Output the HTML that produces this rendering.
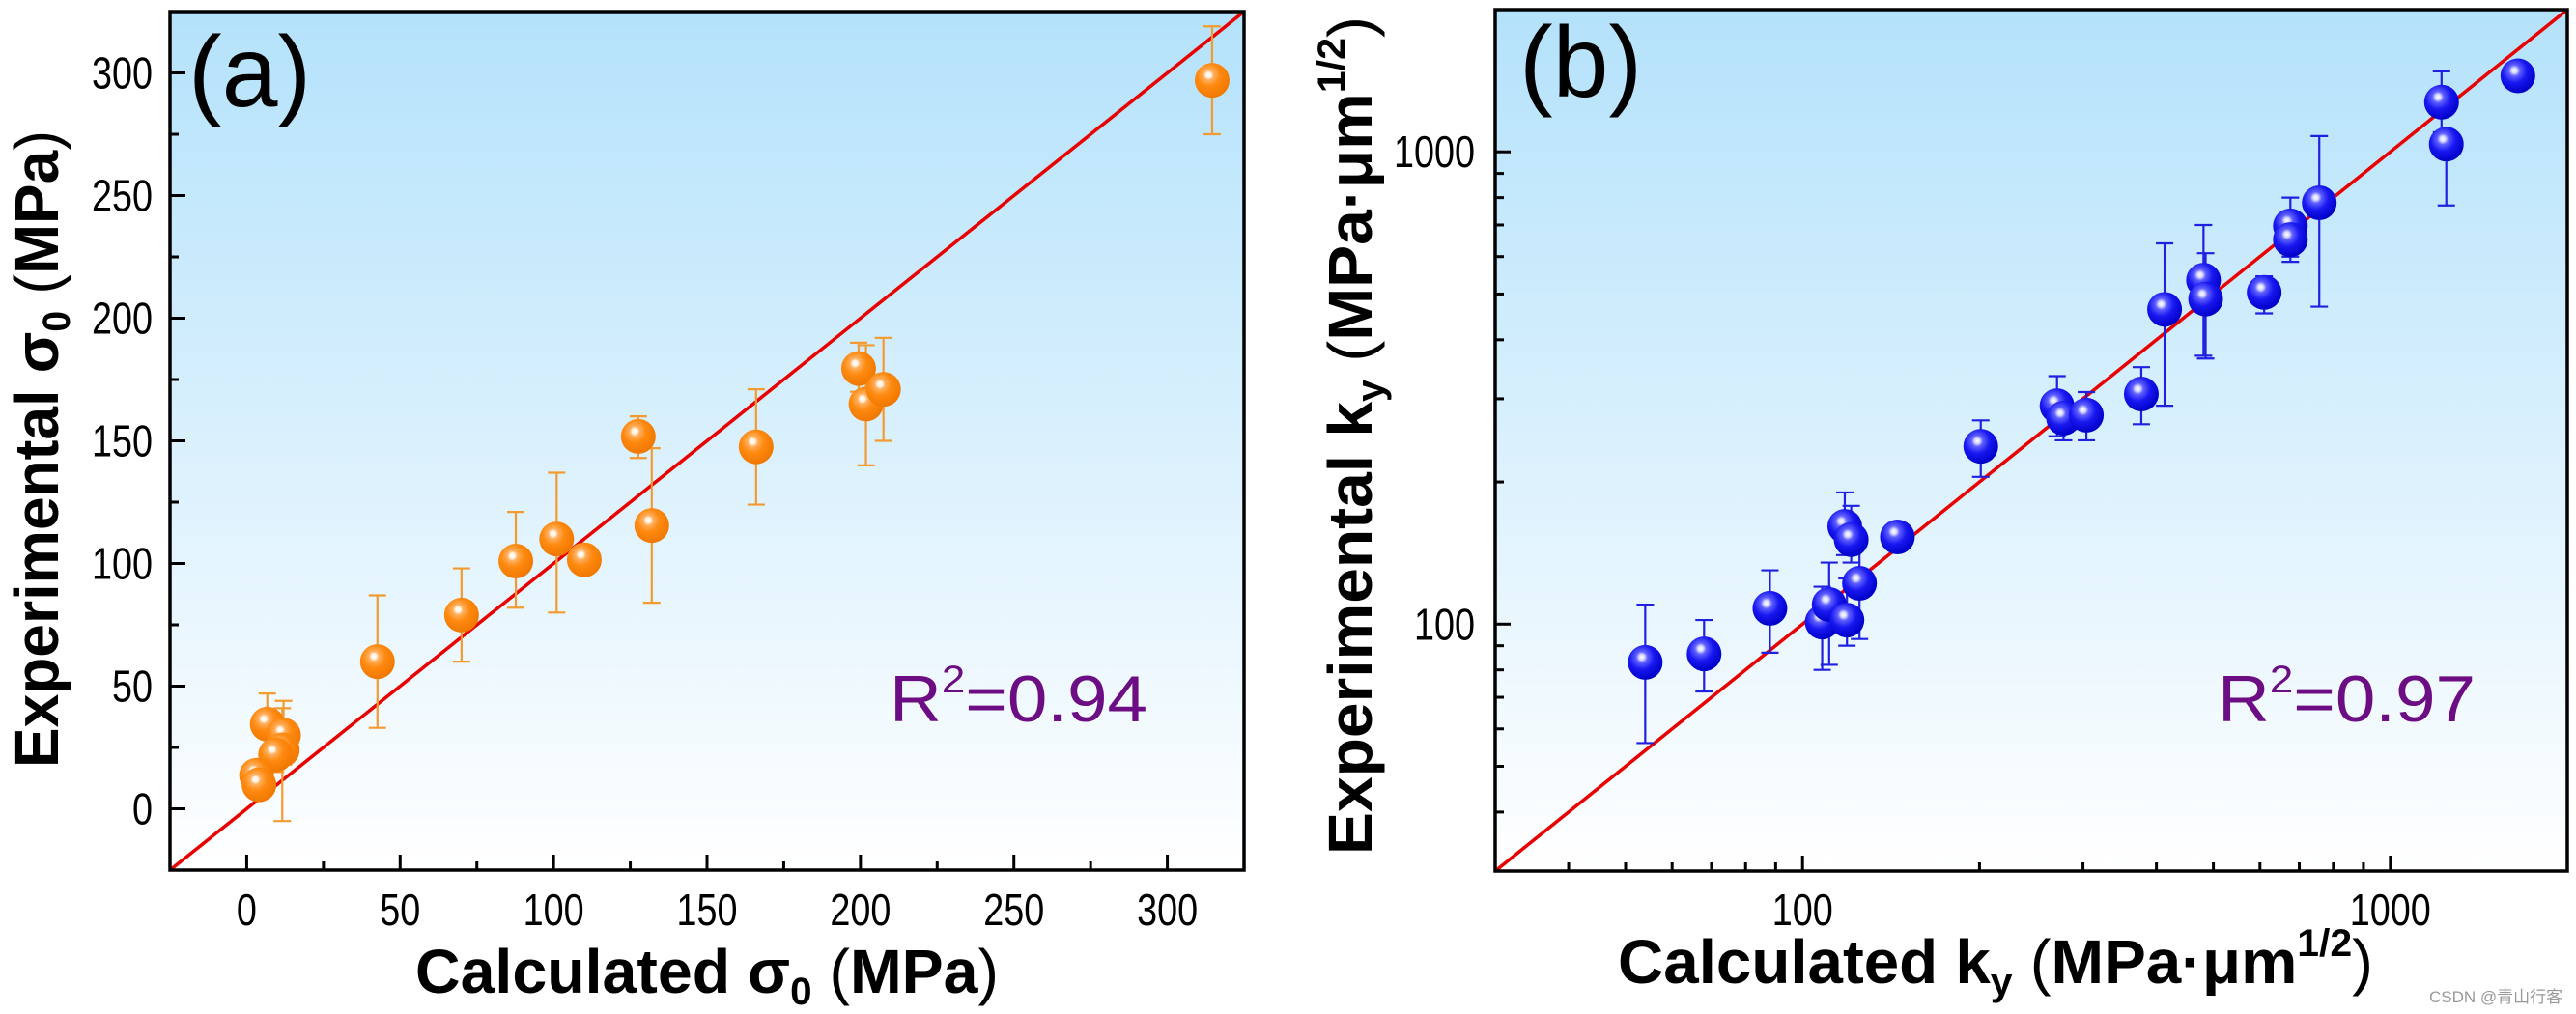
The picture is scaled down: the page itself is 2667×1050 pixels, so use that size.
<!DOCTYPE html>
<html><head><meta charset="utf-8"><style>
html,body{margin:0;padding:0;background:#fff;}
svg{display:block;font-family:"Liberation Sans","Noto Sans CJK SC",sans-serif;}
</style></head><body>
<svg id="fig" width="2667" height="1050" viewBox="0 0 2667 1050" xmlns="http://www.w3.org/2000/svg">
<defs>
<linearGradient id="bg" x1="0" y1="0" x2="0" y2="1">
<stop offset="0" stop-color="#b4e2fb"/><stop offset="1" stop-color="#ffffff"/>
</linearGradient>
<radialGradient id="orangeBall" cx="0.4" cy="0.35" r="0.65">
<stop offset="0" stop-color="#ffffff"/><stop offset="0.12" stop-color="#fff2e0"/><stop offset="0.22" stop-color="#ffb060"/><stop offset="0.5" stop-color="#ff8a10"/><stop offset="1" stop-color="#f07800"/>
</radialGradient>
<radialGradient id="blueBall" cx="0.4" cy="0.35" r="0.65">
<stop offset="0" stop-color="#ffffff"/><stop offset="0.12" stop-color="#d8d8ff"/><stop offset="0.25" stop-color="#6060ff"/><stop offset="0.55" stop-color="#1818f0"/><stop offset="1" stop-color="#0000c8"/>
</radialGradient>
</defs>
<g id="panelA"></g>
<g id="panelB"></g>
<text x="2515" y="1038" font-size="17" fill="#999">CSDN @青山行客</text>
</svg>
<script>
// Panel (a) data
const aCalc = [314.6,199.4,201.8,207.5,166,127.6,132,110,101,87.7,70,42.6,6.7,12,11.6,9.4,3.2,4];
const aExp  = [297,179.5,165,171,147.6,151.8,115.5,101.5,110,101,79,60,34.5,30,24,22,13.7,9.8];
const aErrLo= [275,170,140,150,124,143,84,101.5,80,82,60,33,22,18,-5,15,10,7];
const aErrHi= [319,190,189,192,171,160,147,101.5,137,121,98,87,47,44,41,30,18,14];
const aTicks = [0,50,100,150,200,250,300];
const aTickLabels = ["0","50","100","150","200","250","300"];
// Panel (b) data
const bCalc = [54,68,88,108,111,119,118,121,125,145,201,271,278,304,377,413,481,485,610,676,676,757,1222,1245,1648];
const bExp  = [83,86.5,108,101,110,102,161,151,122,153,238,290,273,277,307,464,535,488,504,697,652,780,1274,1038,1449];
const bErrLo= [56,72,87,80,82,90,140,135,93,145,205,250,245,245,265,290,370,365,455,585,600,470,1100,770,1420];
const bErrHi= [110,102,130,120,135,125,190,178,150,160,270,335,300,310,350,640,700,610,545,800,720,1080,1480,1080,1480];
const bTicks = [100,1000];
const bTickLabels = ["100","1000"];
const bMinor = [40,50,60,70,80,90,200,300,400,500,600,700,800,900,2000];

const NS="http://www.w3.org/2000/svg";
function mk(parent,tag,attrs){const e=document.createElementNS(NS,tag);for(const k in attrs)e.setAttribute(k,attrs[k]);parent.appendChild(e);return e;}

function drawPanel(g,cfg){
  const {L,R,T,B,sx,sy,color,fill}=cfg;
  const bg=mk(g,'rect',{x:L,y:T,width:R-L,height:B-T,fill:'url(#bg)'});
  
  
  cfg.major.forEach((v,i)=>{
    const x=sx(v),y=sy(v);
    const tx=mk(g,'line',{x1:x,y1:B,x2:x,y2:B-16,stroke:'#000','stroke-width':3});
    
    
    const ty=mk(g,'line',{x1:L,y1:y,x2:L+16,y2:y,stroke:'#000','stroke-width':3});
    
    
    const n=cfg.labels[i].length;
    const lx=mk(g,'text',{x:x,y:958,'font-size':46,'text-anchor':'middle',textLength:21*n,lengthAdjust:'spacingAndGlyphs'});
    lx.textContent=cfg.labels[i];
    
    
    const ly=mk(g,'text',{x:cfg.ylabX,y:y+16,'font-size':46,'text-anchor':'end',textLength:21*n,lengthAdjust:'spacingAndGlyphs'});
    ly.textContent=cfg.labels[i];
    
    
  });
  cfg.minor.forEach(v=>{
    const x=sx(v),y=sy(v);
    if(x>L+2&&x<R-2){const m=mk(g,'line',{x1:x,y1:B,x2:x,y2:B-9,stroke:'#000','stroke-width':3});
    
    }
    if(y>T+2&&y<B-2){const m=mk(g,'line',{x1:L,y1:y,x2:L+9,y2:y,stroke:'#000','stroke-width':3});
    
    }
  });
  const diag=mk(g,'line',{x1:L,y1:B,x2:R,y2:T,stroke:'#e80000','stroke-width':3.5});
  
  
  cfg.xs.forEach((xv,i)=>{
    const x=sx(xv),y1=sy(cfg.lo[i]),y2=sy(cfg.hi[i]);
    if(Math.abs(y1-y2)<2)return;
    const eb=mk(g,'path',{d:`M${x},${y1}V${y2}M${x-9},${y1}H${x+9}M${x-9},${y2}H${x+9}`,stroke:color,'stroke-width':2.2,fill:'none'});
    
    
  });
  cfg.xs.forEach((xv,i)=>{
    const c=mk(g,'ellipse',{cx:sx(xv),cy:sy(cfg.ys[i]),rx:18,ry:18,fill:fill});
    
    
  });
  const frame=mk(g,'rect',{x:L,y:T,width:R-L,height:B-T,fill:'none',stroke:'#000','stroke-width':3.5});
  
  
}

(function(){
  const g=document.getElementById('panelA');
  const L=176,R=1288,T=12,B=901;
  const sx=v=>L+(v+25)/350*(R-L), sy=v=>B-(v+25)/350*(B-T);
  const minor=[]; for(let v=-25;v<=325;v+=25) if(v%50!==0) minor.push(v);
  drawPanel(g,{L,R,T,B,sx,sy,color:'#f39a30',fill:'url(#orangeBall)',major:aTicks,labels:aTickLabels,minor,ylabX:158,xs:aCalc,ys:aExp,lo:aErrLo,hi:aErrHi});
  g.insertAdjacentHTML('beforeend',
   '<text x="195" y="110" font-size="104">(a)</text>'+
   '<text x="921" y="747" font-size="68" fill="#6c0d84" textLength="267" lengthAdjust="spacingAndGlyphs">R<tspan font-size="40" dy="-30">2</tspan><tspan dy="30">=0.94</tspan></text>'+
   '<text x="430" y="1028" font-size="64" font-weight="bold" textLength="604" lengthAdjust="spacingAndGlyphs">Calculated σ<tspan font-size="40" dy="12">0</tspan><tspan dy="-12" font-weight="normal"> (</tspan>MPa<tspan font-weight="normal">)</tspan></text>'+
   '<text transform="translate(60,465) rotate(-90)" text-anchor="middle" font-size="64" font-weight="bold" textLength="660" lengthAdjust="spacingAndGlyphs">Experimental σ<tspan font-size="40" dy="12">0</tspan><tspan dy="-12" font-weight="normal"> (</tspan>MPa<tspan font-weight="normal">)</tspan></text>');
})();

(function(){
  const g=document.getElementById('panelB');
  const L=1548,R=2658,T=10,B=902;
  const lmin=Math.log10(30),lmax=Math.log10(2000);
  const sx=v=>L+(Math.log10(v)-lmin)/(lmax-lmin)*(R-L), sy=v=>B-(Math.log10(v)-lmin)/(lmax-lmin)*(B-T);
  drawPanel(g,{L,R,T,B,sx,sy,color:'#2020e0',fill:'url(#blueBall)',major:bTicks,labels:bTickLabels,minor:bMinor,ylabX:1527,xs:bCalc,ys:bExp,lo:bErrLo,hi:bErrHi});
  g.insertAdjacentHTML('beforeend',
   '<text x="1573" y="100" font-size="104">(b)</text>'+
   '<text x="2296" y="747" font-size="68" fill="#6c0d84" textLength="267" lengthAdjust="spacingAndGlyphs">R<tspan font-size="40" dy="-30">2</tspan><tspan dy="30">=0.97</tspan></text>'+
   '<text x="1675" y="1018" font-size="64" font-weight="bold" textLength="782" lengthAdjust="spacingAndGlyphs">Calculated k<tspan font-size="40" dy="12">y</tspan><tspan dy="-12" font-weight="normal"> (</tspan>MPa·μm<tspan font-size="40" dy="-28">1/2</tspan><tspan dy="28" font-weight="normal">)</tspan></text>'+
   '<text transform="translate(1420,451) rotate(-90)" text-anchor="middle" font-size="64" font-weight="bold" textLength="868" lengthAdjust="spacingAndGlyphs">Experimental k<tspan font-size="40" dy="12">y</tspan><tspan dy="-12" font-weight="normal"> (</tspan>MPa·μm<tspan font-size="40" dy="-28">1/2</tspan><tspan dy="28" font-weight="normal">)</tspan></text>');
})();
</script>
</body></html>
